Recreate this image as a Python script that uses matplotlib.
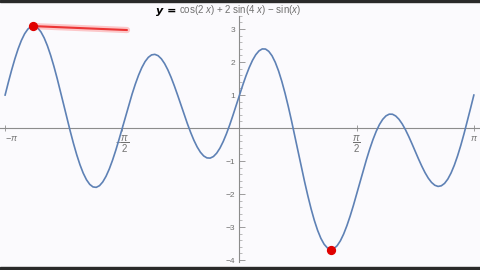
import numpy as np
import matplotlib
matplotlib.use('Agg')
import matplotlib.pyplot as plt
from matplotlib.patches import Rectangle

plt.rcParams['mathtext.fontset'] = 'custom'
plt.rcParams['mathtext.rm'] = 'Liberation Sans'
plt.rcParams['mathtext.it'] = 'Liberation Sans:italic'

# curve values, x in steps of pi/72 from -pi to pi
x_deg = np.arange(-180, 180.1, 2.5)
y_vals = [1.0, 1.387, 1.756, 2.096, 2.399, 2.655, 2.857, 2.999, 3.078, 3.090,
          3.035, 2.915, 2.732, 2.492, 2.201, 1.868, 1.500, 1.110, 0.707, 0.303,
          -0.092, -0.465, -0.808, -1.111, -1.366, -1.566, -1.706, -1.783, -1.796, -1.745,
          -1.632, -1.462, -1.241, -0.974, -0.673, -0.344, 0.0, 0.350, 0.695, 1.026,
          1.331, 1.602, 1.832, 2.014, 2.143, 2.217, 2.233, 2.193, 2.098, 1.953,
          1.763, 1.535, 1.276, 0.997, 0.707, 0.415, 0.132, -0.132, -0.370, -0.572,
          -0.732, -0.844, -0.904, -0.910, -0.862, -0.760, -0.607, -0.409, -0.172, 0.096,
          0.388, 0.693, 1.0, 1.300, 1.582, 1.835, 2.052, 2.222, 2.339, 2.398,
          2.394, 2.324, 2.190, 1.991, 1.732, 1.417, 1.054, 0.650, 0.215, -0.241,
          -0.707, -1.172, -1.624, -2.052, -2.447, -2.798, -3.098, -3.340, -3.519, -3.631,
          -3.675, -3.652, -3.564, -3.415, -3.210, -2.957, -2.665, -2.343, -2.0, -1.648,
          -1.297, -0.957, -0.639, -0.351, -0.100, 0.107, 0.264, 0.369, 0.421, 0.419,
          0.366, 0.266, 0.124, -0.052, -0.256, -0.477, -0.707, -0.936, -1.153, -1.350,
          -1.517, -1.647, -1.732, -1.768, -1.749, -1.676, -1.546, -1.361, -1.125, -0.842,
          -0.520, -0.165, 0.214, 0.605, 1.0]
x_vals = x_deg * np.pi / 180

# extrema marked in red
ext_x = [-2.77, 1.227]
ext_y = [3.09, -3.68]

xtick_pos = [-np.pi, -np.pi / 2, np.pi / 2, np.pi]
xtick_lab = [r'$-\pi$', r'$-\dfrac{\pi}{2}$', r'$\dfrac{\pi}{2}$', r'$\pi$']
ytick_pos = [-4, -3, -2, -1, 1, 2, 3]
ytick_lab = ['\u22124', '\u22123', '\u22122', '\u22121', '1', '2', '3']

bg = '#fbfafd'
fig = plt.figure(figsize=(4.8, 2.7), dpi=100, facecolor=bg)
ax = fig.add_axes([0, 0, 1, 1], facecolor=bg)
ax.set_xlim(-3.21, 3.224)
ax.set_ylim(-4.30, 3.88)

ax.plot(x_vals, y_vals, color='#5e81b5', lw=1.2, zorder=3)

# highlighter stroke from the max
ax.plot([ext_x[0], -1.508], [ext_y[0], 2.97], color='#ff3030', lw=4.5, alpha=0.25,
        solid_capstyle='round', zorder=4)
ax.plot([ext_x[0], -1.508], [ext_y[0], 2.97], color='#e81010', lw=1.5, alpha=0.8,
        solid_capstyle='round', zorder=4)
ax.scatter(ext_x, ext_y, s=32, color='#e00000', zorder=5)

for s in ['top', 'right']:
    ax.spines[s].set_visible(False)
ax.spines['left'].set_position(('data', 0))
ax.spines['bottom'].set_position(('data', 0))
ax.spines['left'].set_bounds(-4.05, 3.4)
for s in ['left', 'bottom']:
    ax.spines[s].set_color('#8c8c8c')
    ax.spines[s].set_linewidth(0.8)

ax.set_xticks(xtick_pos)
ax.set_xticklabels(xtick_lab, fontsize=6.5, color='#707070')
xl = ax.get_xticklabels()
xl[0].set_horizontalalignment('left')
xl[1].set_fontsize(7)
xl[2].set_fontsize(7)
ax.set_yticks(ytick_pos)
ax.set_yticklabels(ytick_lab, fontsize=6, color='#707070', family='Liberation Sans')
ax.set_yticks(np.arange(-4, 3.41, 0.2), minor=True)
ax.tick_params(axis='x', direction='inout', length=4, width=0.6, color='#8c8c8c', pad=2)
ax.tick_params(axis='y', which='major', direction='in', length=4, width=0.6,
               color='#8c8c8c', pad=3)
ax.tick_params(axis='y', which='minor', direction='in', length=2, width=0.5,
               color='#a0a0a0')

fig.text(0.325, 0.958, 'y =', fontsize=8, color='black', fontweight='bold',
         ha='left', va='center', style='italic')
fig.text(0.372, 0.963, r'cos(2 $x$) + 2 sin(4 $x$) $-$ sin($x$)', fontsize=7,
         color='#707070', ha='left', va='center', family='Liberation Sans')

# dark bands at top and bottom edge
fig.patches.append(Rectangle((0, 0.993), 1, 0.007, transform=fig.transFigure,
                             color='#2a2a2a'))
fig.patches.append(Rectangle((0, 0), 1, 0.011, transform=fig.transFigure,
                             color='#2a2a2a'))

plt.savefig('out.png', dpi=100, facecolor=bg)
